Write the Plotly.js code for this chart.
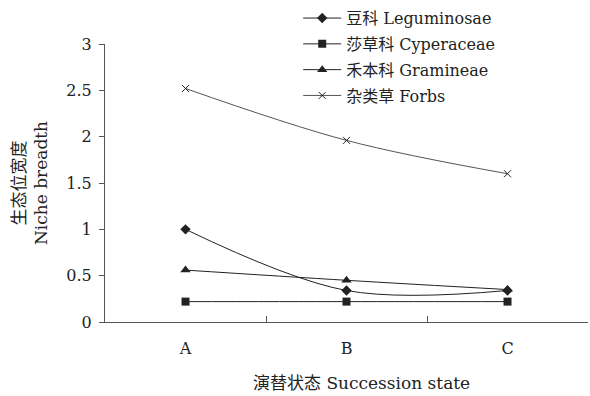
<!DOCTYPE html>
<html><head><meta charset="utf-8">
<script src="https://cdn.plot.ly/plotly-3.0.1.min.js"></script>
<style>body{margin:0;background:#fff}#c{width:590px;height:396px}</style>
</head><body><div id="c"></div>
<script>
const categories = ["A", "B", "C"];
const leguminosae = [1.00, 0.34, 0.34];
const cyperaceae = [0.22, 0.22, 0.22];
const gramineae = [0.56, 0.45, 0.35];
const forbs = [2.52, 1.96, 1.60];
const seriesNames = ["豆科 Leguminosae", "莎草科 Cyperaceae", "禾本科 Gramineae", "杂类草 Forbs"];
const xTitle = "演替状态 Succession state";
const yTitle = "生态位宽度<br>Niche breadth";
const yTicks = [0, 0.5, 1, 1.5, 2, 2.5, 3];
const yTickText = ["0", "0.5", "1", "1.5", "2", "2.5", "3"];

const FONT = "'DejaVu Serif', 'Noto Sans CJK SC', serif";
const ink = "#222";
function tr(y, name, sym, size, lineColor, grp) {
  return {x: categories, y: y, name: name, type: "scatter", mode: "lines+markers", legendgroup: grp,
    line: {color: lineColor || ink, width: 1, shape: "spline", smoothing: 1},
    marker: {symbol: sym, size: size, color: ink, line: {color: ink, width: sym === "x-thin" ? 1 : 0}}};
}
const data = [
  tr(leguminosae, seriesNames[0], "diamond", 8, null, "g1"),
  tr(cyperaceae, seriesNames[1], "square", 8, null, "g2"),
  tr(gramineae, seriesNames[2], "triangle-up", 9, null, "g3"),
  tr(forbs, seriesNames[3], "x-thin", 7, "#555", "g4")
];
const layout = {
  width: 590, height: 396,
  margin: {l: 105, r: 2, t: 43, b: 74},
  paper_bgcolor: "#fff", plot_bgcolor: "#fff",
  font: {family: FONT, color: ink, size: 16},
  showlegend: true,
  legend: {x: 0.4, y: 1.15, xanchor: "left", yanchor: "top", bgcolor: "rgba(0,0,0,0)",
    font: {family: FONT, size: 16, color: ink}, tracegroupgap: 2, itemwidth: 38},
  xaxis: {type: "category", range: [-0.5, 2.5], showline: true, linecolor: "#555", linewidth: 1,
    ticks: "inside", tickson: "boundaries", ticklen: 6, tickcolor: "#555", showgrid: false, zeroline: false,
    tickfont: {size: 16}, ticklabelstandoff: 12},
  yaxis: {range: [0, 3], tickvals: yTicks, ticktext: yTickText, showline: true, linecolor: "#555", linewidth: 1,
    ticks: "outside", ticklen: 5, tickcolor: "#555", showgrid: false, zeroline: false,
    tickfont: {size: 16}, ticklabelstandoff: 4,
    title: {text: yTitle, font: {size: 17}, standoff: 14}},
  annotations: [{text: xTitle, xref: "paper", yref: "paper", x: 0.532, y: -0.219,
    xanchor: "center", yanchor: "middle", showarrow: false, font: {size: 17, family: FONT, color: ink}}]
};
Plotly.newPlot("c", data, layout, {staticPlot: true});
</script></body></html>
